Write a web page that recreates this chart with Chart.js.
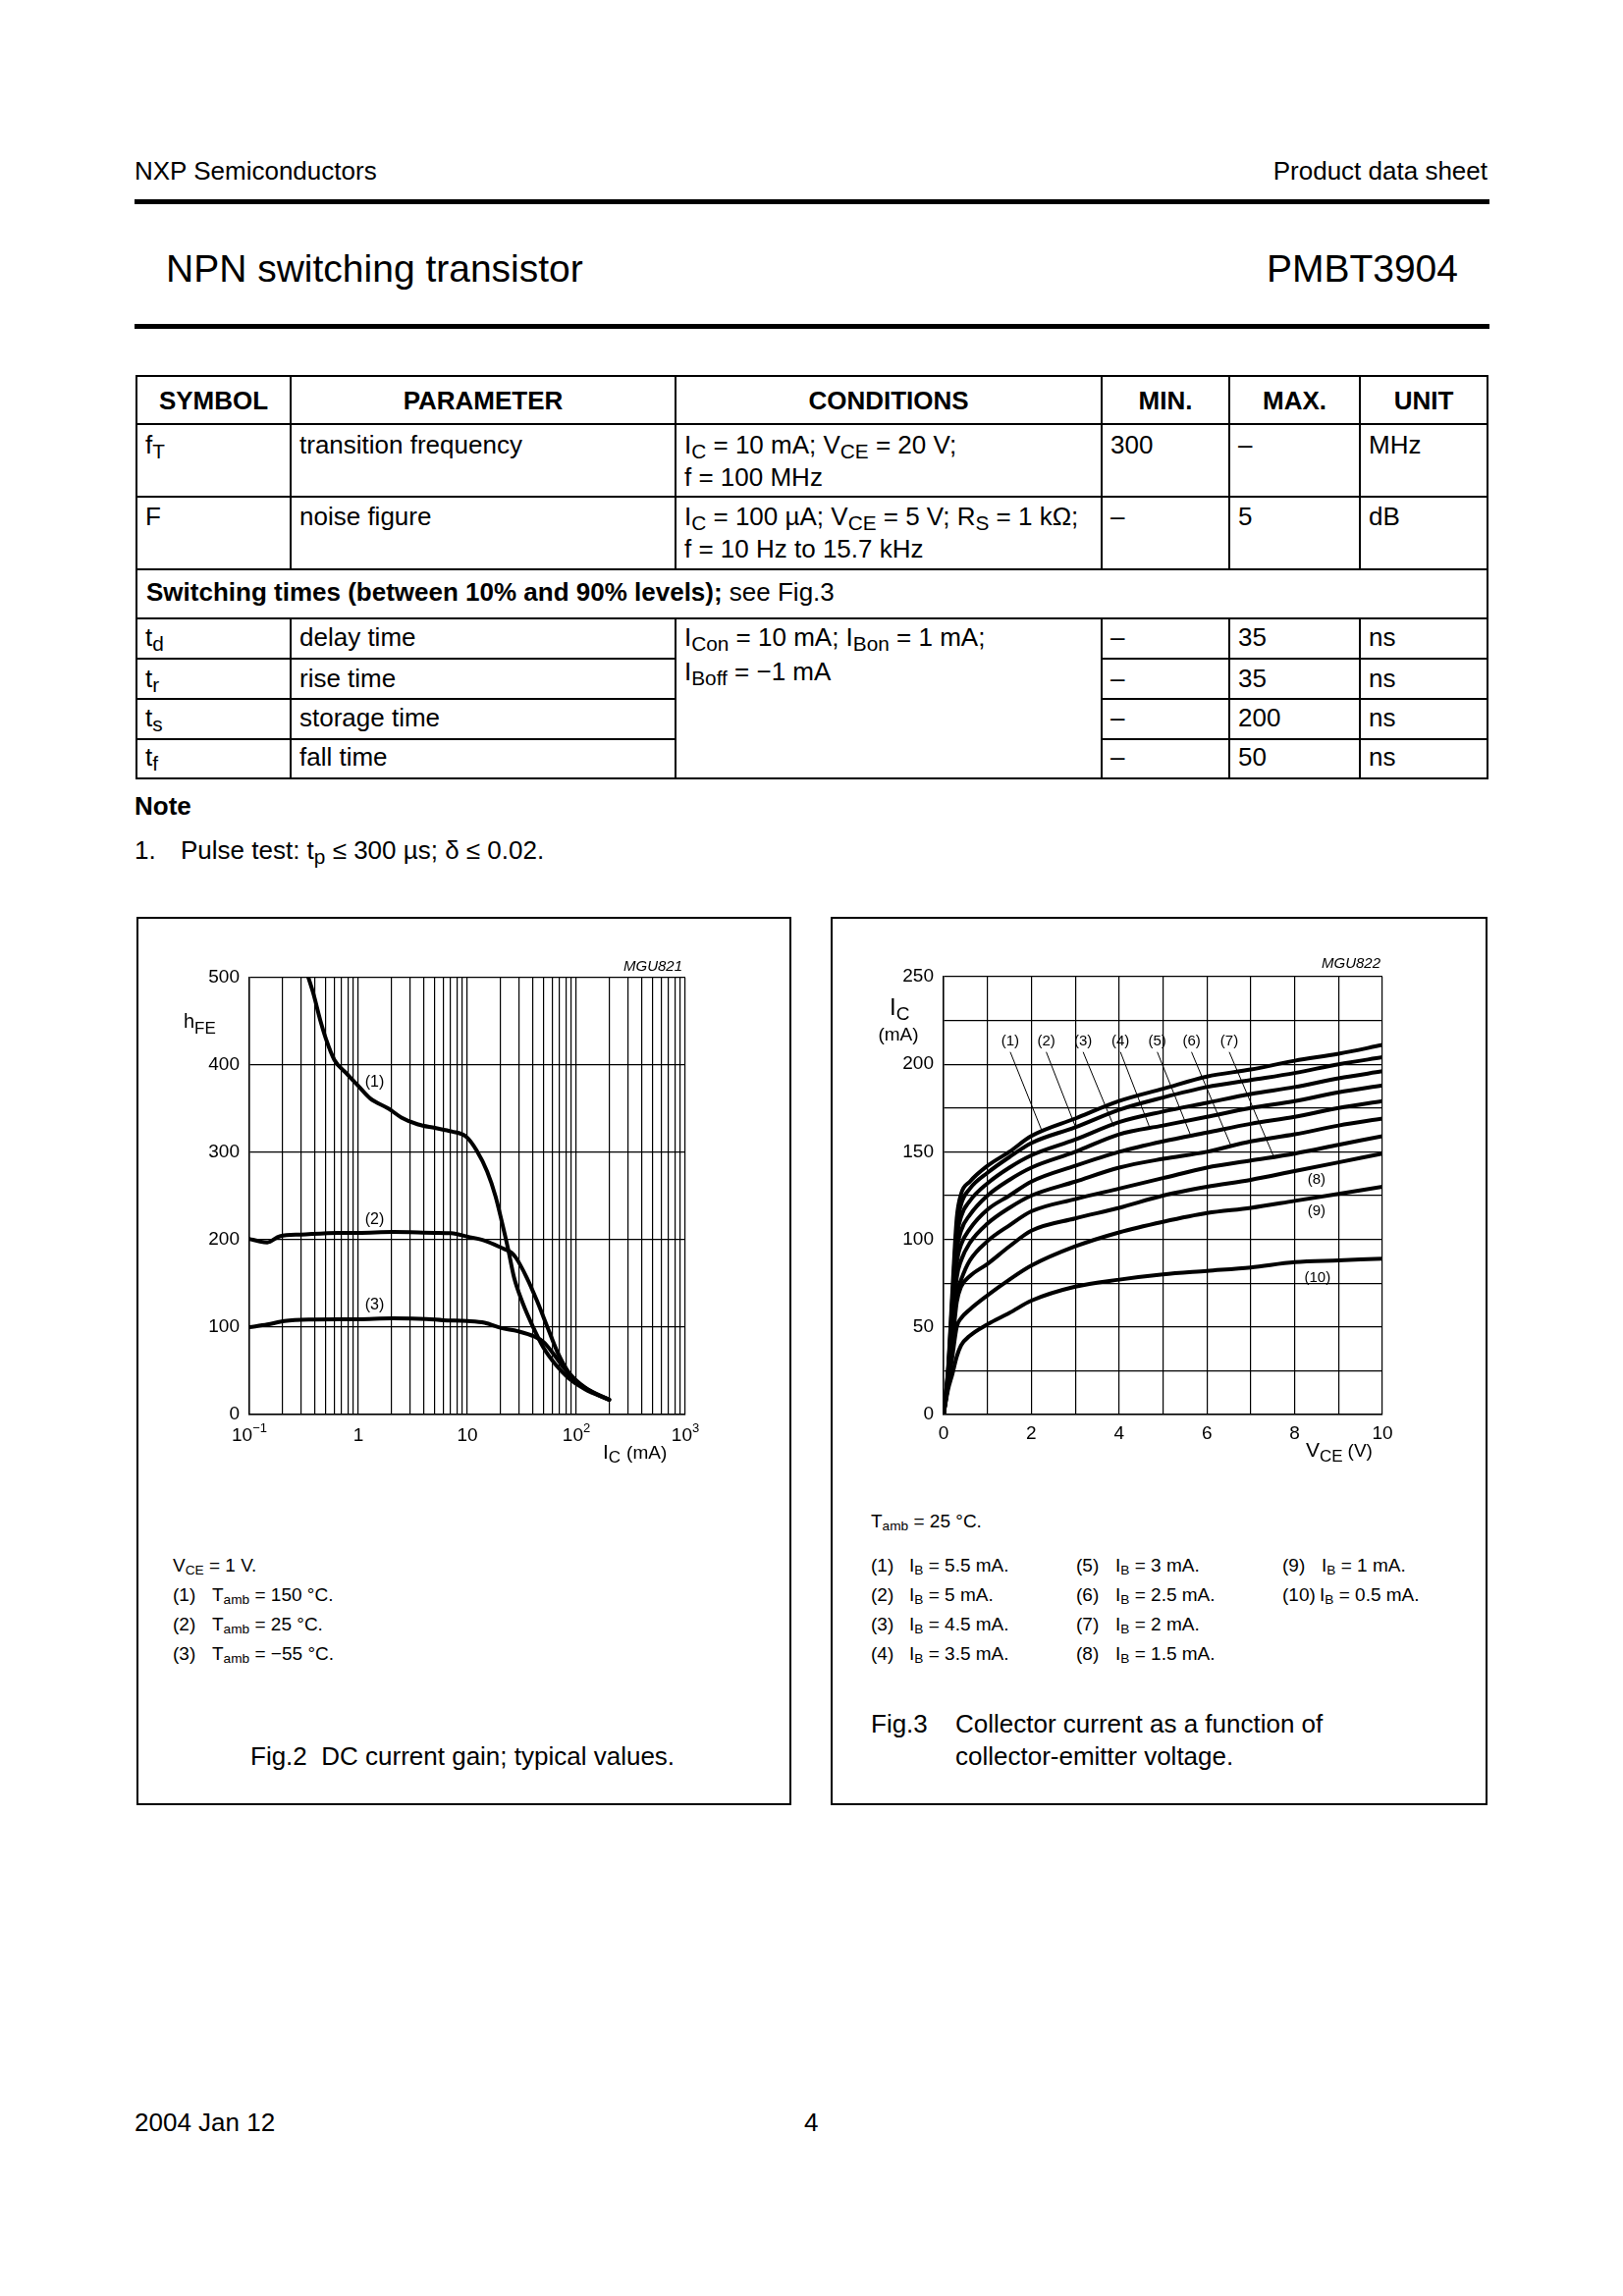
<!DOCTYPE html>
<html>
<head>
<meta charset="utf-8">
<title>PMBT3904 data sheet page 4</title>
<script src="https://cdn.jsdelivr.net/npm/chart.js@4.4.1/dist/chart.umd.min.js"></script>
<style>
html,body{margin:0;padding:0;background:#fff;}
#page{position:relative;width:1653px;height:2339px;overflow:hidden;background:#fff;color:#000;font-family:"Liberation Sans",Arial,Helvetica,sans-serif;}
.t{position:absolute;white-space:nowrap;line-height:1;font-size:26px;}
.b{font-weight:bold;}
.c{text-align:center;}
.s{font-size:0.8em;vertical-align:-0.25em;line-height:0;}
.lg{font-size:19px;}
.ss{font-size:0.72em;vertical-align:-0.22em;line-height:0;}
.ln{position:absolute;background:#000;}
.box{position:absolute;box-sizing:border-box;border:2px solid #000;}
canvas{position:absolute;}
</style>
</head>
<body>
<div id="page">
  <!-- header -->
  <div class="t" style="left:137px;top:161px">NXP Semiconductors</div>
  <div class="t" style="right:138px;top:161px">Product data sheet</div>
  <div class="ln" style="left:137px;top:203px;width:1380px;height:5px"></div>
  <div class="t" style="left:169px;top:254px;font-size:39px">NPN switching transistor</div>
  <div class="t" style="right:168px;top:254px;font-size:39px">PMBT3904</div>
  <div class="ln" style="left:137px;top:330px;width:1380px;height:5px"></div>

  <!-- table header -->
  <div class="t b c" style="left:139px;width:157px;top:395px">SYMBOL</div>
  <div class="t b c" style="left:296px;width:392px;top:395px">PARAMETER</div>
  <div class="t b c" style="left:688px;width:434px;top:395px">CONDITIONS</div>
  <div class="t b c" style="left:1122px;width:130px;top:395px">MIN.</div>
  <div class="t b c" style="left:1252px;width:133px;top:395px">MAX.</div>
  <div class="t b c" style="left:1385px;width:130px;top:395px">UNIT</div>

  <!-- fT row -->
  <div class="t" style="left:148px;top:440px">f<span class="s">T</span></div>
  <div class="t" style="left:305px;top:440px">transition frequency</div>
  <div class="t" style="left:697px;top:440px">I<span class="s">C</span> = 10 mA; V<span class="s">CE</span> = 20 V;</div>
  <div class="t" style="left:697px;top:473px">f = 100 MHz</div>
  <div class="t" style="left:1131px;top:440px">300</div>
  <div class="t" style="left:1261px;top:440px">–</div>
  <div class="t" style="left:1394px;top:440px">MHz</div>

  <!-- F row -->
  <div class="t" style="left:148px;top:513px">F</div>
  <div class="t" style="left:305px;top:513px">noise figure</div>
  <div class="t" style="left:697px;top:513px">I<span class="s">C</span> = 100 µA; V<span class="s">CE</span> = 5 V; R<span class="s">S</span> = 1 kΩ;</div>
  <div class="t" style="left:697px;top:546px">f = 10 Hz to 15.7 kHz</div>
  <div class="t" style="left:1131px;top:513px">–</div>
  <div class="t" style="left:1261px;top:513px">5</div>
  <div class="t" style="left:1394px;top:513px">dB</div>

  <!-- switching row -->
  <div class="t" style="left:149px;top:590px"><b>Switching times (between 10% and 90% levels);</b> see Fig.3</div>

  <!-- switching sub rows -->
  <div class="t" style="left:148px;top:636px">t<span class="s">d</span></div>
  <div class="t" style="left:305px;top:636px">delay time</div>
  <div class="t" style="left:697px;top:636px">I<span class="s">Con</span> = 10 mA; I<span class="s">Bon</span> = 1 mA;</div>
  <div class="t" style="left:697px;top:671px">I<span class="s">Boff</span> = −1 mA</div>
  <div class="t" style="left:1131px;top:636px">–</div>
  <div class="t" style="left:1261px;top:636px">35</div>
  <div class="t" style="left:1394px;top:636px">ns</div>

  <div class="t" style="left:148px;top:678px">t<span class="s">r</span></div>
  <div class="t" style="left:305px;top:678px">rise time</div>
  <div class="t" style="left:1131px;top:678px">–</div>
  <div class="t" style="left:1261px;top:678px">35</div>
  <div class="t" style="left:1394px;top:678px">ns</div>

  <div class="t" style="left:148px;top:718px">t<span class="s">s</span></div>
  <div class="t" style="left:305px;top:718px">storage time</div>
  <div class="t" style="left:1131px;top:718px">–</div>
  <div class="t" style="left:1261px;top:718px">200</div>
  <div class="t" style="left:1394px;top:718px">ns</div>

  <div class="t" style="left:148px;top:758px">t<span class="s">f</span></div>
  <div class="t" style="left:305px;top:758px">fall time</div>
  <div class="t" style="left:1131px;top:758px">–</div>
  <div class="t" style="left:1261px;top:758px">50</div>
  <div class="t" style="left:1394px;top:758px">ns</div>

  <!-- note -->
  <div class="t b" style="left:137px;top:808px">Note</div>
  <div class="t" style="left:137px;top:853px">1.</div>
  <div class="t" style="left:184px;top:853px">Pulse test: t<span class="s">p</span> ≤ 300 µs; δ ≤ 0.02.</div>

  <!-- figure boxes -->
  <div class="box" style="left:139px;top:934px;width:667px;height:905px"></div>
  <div class="box" style="left:846px;top:934px;width:669px;height:905px"></div>

  <canvas id="fig2" width="655" height="600" style="left:144px;top:938px;width:655px;height:600px"></canvas>
  <canvas id="fig3" width="660" height="600" style="left:851px;top:937px;width:660px;height:600px"></canvas>

  <!-- Fig.2 legend -->
  <div class="t lg" style="left:176px;top:1585px">V<span class="ss">CE</span> = 1 V.</div>
  <div class="t lg" style="left:176px;top:1615px">(1)</div>
  <div class="t lg" style="left:216px;top:1615px">T<span class="ss">amb</span> = 150 °C.</div>
  <div class="t lg" style="left:176px;top:1645px">(2)</div>
  <div class="t lg" style="left:216px;top:1645px">T<span class="ss">amb</span> = 25 °C.</div>
  <div class="t lg" style="left:176px;top:1675px">(3)</div>
  <div class="t lg" style="left:216px;top:1675px">T<span class="ss">amb</span> = −55 °C.</div>
  <div class="t" style="left:255px;top:1776px">Fig.2&nbsp; DC current gain; typical values.</div>

  <!-- Fig.3 legend -->
  <div class="t lg" style="left:887px;top:1540px">T<span class="ss">amb</span> = 25 °C.</div>
  <div class="t lg" style="left:887px;top:1585px">(1)</div><div class="t lg" style="left:926px;top:1585px">I<span class="ss">B</span> = 5.5 mA.</div>
  <div class="t lg" style="left:887px;top:1615px">(2)</div><div class="t lg" style="left:926px;top:1615px">I<span class="ss">B</span> = 5 mA.</div>
  <div class="t lg" style="left:887px;top:1645px">(3)</div><div class="t lg" style="left:926px;top:1645px">I<span class="ss">B</span> = 4.5 mA.</div>
  <div class="t lg" style="left:887px;top:1675px">(4)</div><div class="t lg" style="left:926px;top:1675px">I<span class="ss">B</span> = 3.5 mA.</div>
  <div class="t lg" style="left:1096px;top:1585px">(5)</div><div class="t lg" style="left:1136px;top:1585px">I<span class="ss">B</span> = 3 mA.</div>
  <div class="t lg" style="left:1096px;top:1615px">(6)</div><div class="t lg" style="left:1136px;top:1615px">I<span class="ss">B</span> = 2.5 mA.</div>
  <div class="t lg" style="left:1096px;top:1645px">(7)</div><div class="t lg" style="left:1136px;top:1645px">I<span class="ss">B</span> = 2 mA.</div>
  <div class="t lg" style="left:1096px;top:1675px">(8)</div><div class="t lg" style="left:1136px;top:1675px">I<span class="ss">B</span> = 1.5 mA.</div>
  <div class="t lg" style="left:1306px;top:1585px">(9)</div><div class="t lg" style="left:1346px;top:1585px">I<span class="ss">B</span> = 1 mA.</div>
  <div class="t lg" style="left:1306px;top:1615px">(10)</div><div class="t lg" style="left:1344px;top:1615px">I<span class="ss">B</span> = 0.5 mA.</div>
  <div class="t" style="left:887px;top:1743px">Fig.3</div>
  <div class="t" style="left:973px;top:1743px">Collector current as a function of</div>
  <div class="t" style="left:973px;top:1776px">collector-emitter voltage.</div>

  <!-- footer -->
  <div class="t" style="left:137px;top:2149px">2004 Jan 12</div>
  <div class="t" style="left:819px;top:2149px">4</div>
</div>

<script>
// ---------------- Fig.2 data : DC current gain ----------------
const fig2XGrid = [0.1,0.2,0.3,0.4,0.5,0.6,0.7,0.8,0.9,1,2,3,4,5,6,7,8,9,10,20,30,40,50,60,70,80,90,100,200,300,400,500,600,700,800,900,1000];
const fig2XTickValues = [0.1, 1, 10, 100, 1000];
const fig2XTickBase   = ['10', '1', '10', '10', '10'];
const fig2XTickExp    = ['−1', '', '', '2', '3'];
const fig2YTicks = [0, 100, 200, 300, 400, 500];

const ic150  = [0.348,0.386,0.45,0.504,0.602,0.783,1.0,1.28,1.9,2.48,3.53,5.03,7.17,9.75,12.2,15.2,18.1,20.6,23.6,26.8,31.9,39.8,49.7,64.7,84.3,120,200];
const hfe150 = [500,482,450,430,406,390,376,362,350,340,332,328,324,318,302,278,250,222,190,157,129,101,77,57,42,29,17];
const ic25   = [0.1,0.125,0.146,0.19,0.3,0.66,1,2.07,5,7.1,10.1,14.4,20.4,25.5,27.9,35,43.6,54.3,67.9,84.3,120,200];
const hfe25  = [201,198,197,204,206,208,208,209,208,207.5,203.5,199,191,185,179.5,157,130,100,70,49,31,17];
const icm55  = [0.1,0.146,0.21,0.35,1,2.07,4.2,6,10,14.4,20.4,29,41.7,50,62,77,101,143,200];
const hfem55 = [100,103,107,108.6,109,110,109.4,108,107,105,99,95.4,89,83,69,53,37,25,17];

const fig2CurveLabels = ['(1)', '(2)', '(3)'];
const fig2LabelX = [1.41, 1.41, 1.41];
const fig2LabelY = [380, 223, 125];

// ---------------- Fig.3 data : IC vs VCE ----------------
const fig3XGrid = [0,1,2,3,4,5,6,7,8,9,10];
const fig3XLabelled = [0,2,4,6,8,10];
const fig3YGrid = [0,25,50,75,100,125,150,175,200,225,250];
const fig3YLabelled = [0,50,100,150,200,250];

const vce   = [0,0.1,0.2,0.3,0.4,0.6,1,1.5,2,3,4,5,6,7,8,9,10];
const ib5_5 = [0,25,70,112,126,133,142,150,159,169,179,186,193,197,202,206,211];
const ib5_0 = [0,24,66,106,120,129,138,147,155,164,174,181,187,191,195,200,204];
const ib4_5 = [0,23,62,100,113,122,132,141,148,157,167,173,178,183,187,192,196];
const ib3_5 = [0,22,58,93,105,114,125,134,141,150,160,165,170,175,179,184,188];
const ib3_0 = [0,21,54,86,97,106,117,125,133,142,150,156,161,166,170,175,179];
const ib2_5 = [0,20,50,78,88,98,109,118,125,133,141,146,150,156,160,165,169];
const ib2_0 = [0,19,46,69,77,88,99,108,116,123,129,135,141,145,149,154,159];
const ib1_5 = [0,17,40,64,73,79,86,96,105,112,118,125,130,134,139,144,149];
const ib1_0 = [0,16,33,50,55,60,68,77,85,96,104,110,115,118,122,126,130];
const ib0_5 = [0,14,23,33,39.5,45,51.5,58,65,73,77,80,82,84,87,88,89];

const fig3TopLabels = ['(1)','(2)','(3)','(4)','(5)','(6)','(7)'];
const fig3TopLabelX = [1.52,2.34,3.18,4.03,4.87,5.65,6.51];
const fig3TopLabelY = 213;
const fig3LeaderStartY = 207;
const fig3LeaderEndX = [2.24,3.01,3.88,4.71,5.62,6.54,7.51];
const fig3LeaderEndY = [162,164,164.5,163,160,154,148];
const fig3SideLabels = ['(8)','(9)','(10)'];
const fig3SideLabelX = [8.5,8.5,8.52];
const fig3SideLabelY = [134,116,78];

// ---------------- helpers ----------------
const FONT = '"Liberation Sans", Arial, Helvetica, sans-serif';
Chart.defaults.font.family = FONT;
Chart.defaults.color = '#000';
Chart.defaults.font.size = 19;

function runsWidth(ctx, parts) {
  let w = 0;
  for (const p of parts) { ctx.font = (p.st || '') + ' ' + p.sz + 'px ' + FONT; w += ctx.measureText(p.t).width + (p.gap || 0); }
  return w;
}
function drawRuns(ctx, x, y, parts, align) {
  ctx.save();
  ctx.textBaseline = 'alphabetic';
  ctx.textAlign = 'left';
  ctx.fillStyle = '#000';
  let cx = x;
  if (align === 'center') cx = x - runsWidth(ctx, parts) / 2;
  else if (align === 'right') cx = x - runsWidth(ctx, parts);
  for (const p of parts) {
    ctx.font = (p.st || '') + ' ' + p.sz + 'px ' + FONT;
    ctx.fillText(p.t, cx, y + (p.dy || 0));
    cx += ctx.measureText(p.t).width + (p.gap || 0);
  }
  ctx.restore();
}
function pts(xs, ys) { return xs.map((x, i) => ({ x: x, y: ys[i] })); }
function curve(xs, ys) {
  return { data: pts(xs, ys), showLine: true, borderColor: '#000', borderWidth: 4, pointRadius: 0,
           fill: false, cubicInterpolationMode: 'monotone', borderCapStyle: 'round', borderJoinStyle: 'round' };
}
const gridStyle = { color: '#000', lineWidth: 1.2, drawTicks: false };
const borderStyle = { color: '#000', width: 1.5 };

// ---------------- page table lines ----------------
(function () {
  const page = document.getElementById('page');
  const colX = [139, 296, 688, 1122, 1252, 1385, 1515];
  const rowY = [383, 432, 506, 580, 630, 671, 712, 753, 793];
  function line(x, y, w, h) {
    const d = document.createElement('div');
    d.className = 'ln';
    d.style.left = x + 'px'; d.style.top = y + 'px'; d.style.width = w + 'px'; d.style.height = h + 'px';
    page.appendChild(d);
  }
  const L = colX[0], R = colX[6];
  [0, 1, 2, 3, 4, 8].forEach(i => line(L - 1, rowY[i] - 1, R - L + 2, 2));
  [5, 6, 7].forEach(i => { line(L - 1, rowY[i] - 1, colX[2] - L + 2, 2); line(colX[3] - 1, rowY[i] - 1, R - colX[3] + 2, 2); });
  line(L - 1, rowY[0] - 1, 2, rowY[8] - rowY[0] + 2);
  line(R - 1, rowY[0] - 1, 2, rowY[8] - rowY[0] + 2);
  [1, 2, 3, 4, 5].forEach(c => { line(colX[c] - 1, rowY[0], 2, rowY[3] - rowY[0]); line(colX[c] - 1, rowY[4], 2, rowY[8] - rowY[4]); });
})();

// ---------------- Fig.2 chart ----------------
const fig2Text = {
  id: 'fig2Text',
  afterDraw(chart) {
    const ctx = chart.ctx, a = chart.chartArea, xs = chart.scales.x, ys = chart.scales.y;
    fig2XTickValues.forEach((v, i) => {
      const parts = [{ t: fig2XTickBase[i], sz: 19 }];
      if (fig2XTickExp[i]) parts.push({ t: fig2XTickExp[i], sz: 13, dy: -9 });
      drawRuns(ctx, xs.getPixelForValue(v), a.bottom + 27, parts, 'center');
    });
    drawRuns(ctx, a.left - 67, a.top + 51, [{ t: 'h', sz: 20 }, { t: 'FE', sz: 17, dy: 6 }]);
    drawRuns(ctx, a.left + 360, a.bottom + 45, [{ t: 'I', sz: 21 }, { t: 'C', sz: 17, dy: 4, gap: 6 }, { t: '(mA)', sz: 19 }]);
    drawRuns(ctx, a.right - 3, a.top - 7, [{ t: 'MGU821', sz: 15, st: 'italic' }], 'right');
    ctx.save();
    ctx.font = '16px ' + FONT; ctx.textAlign = 'center'; ctx.textBaseline = 'middle'; ctx.fillStyle = '#000';
    fig2CurveLabels.forEach((s, i) => ctx.fillText(s, xs.getPixelForValue(fig2LabelX[i]), ys.getPixelForValue(fig2LabelY[i])));
    ctx.restore();
  }
};

new Chart(document.getElementById('fig2'), {
  type: 'scatter',
  data: { datasets: [curve(ic150, hfe150), curve(ic25, hfe25), curve(icm55, hfem55)] },
  options: {
    responsive: false, animation: false, events: [],
    layout: { padding: { top: 58, right: 101, bottom: 57, left: 0 } },
    plugins: { legend: { display: false }, tooltip: { enabled: false } },
    scales: {
      x: {
        type: 'logarithmic', min: 0.1, max: 1000,
        afterBuildTicks(s) { s.ticks = fig2XGrid.map(v => ({ value: v })); },
        afterFit(s) { s.height = 40; },
        ticks: { display: false },
        grid: gridStyle, border: borderStyle
      },
      y: {
        type: 'linear', min: 0, max: 500,
        afterBuildTicks(s) { s.ticks = fig2YTicks.map(v => ({ value: v })); },
        afterFit(s) { s.width = 110; },
        ticks: { padding: 10, font: { size: 19 }, callback: v => String(v) },
        grid: gridStyle, border: borderStyle
      }
    }
  },
  plugins: [fig2Text]
});

// ---------------- Fig.3 chart ----------------
const fig3Text = {
  id: 'fig3Text',
  afterDraw(chart) {
    const ctx = chart.ctx, a = chart.chartArea, xs = chart.scales.x, ys = chart.scales.y;
    drawRuns(ctx, a.left - 55, a.top + 39, [{ t: 'I', sz: 24 }, { t: 'C', sz: 19, dy: 5 }]);
    drawRuns(ctx, a.left - 46, a.top + 65, [{ t: '(mA)', sz: 19 }], 'center');
    drawRuns(ctx, a.left + 369, a.bottom + 43, [{ t: 'V', sz: 21 }, { t: 'CE', sz: 17, dy: 5, gap: 5 }, { t: '(V)', sz: 19 }]);
    drawRuns(ctx, a.right - 2, a.top - 9, [{ t: 'MGU822', sz: 15, st: 'italic' }], 'right');
    ctx.save();
    ctx.strokeStyle = '#000'; ctx.lineWidth = 1;
    fig3TopLabelX.forEach((lx, i) => {
      ctx.beginPath();
      ctx.moveTo(xs.getPixelForValue(lx), ys.getPixelForValue(fig3LeaderStartY));
      ctx.lineTo(xs.getPixelForValue(fig3LeaderEndX[i]), ys.getPixelForValue(fig3LeaderEndY[i]));
      ctx.stroke();
    });
    ctx.font = '15px ' + FONT; ctx.textAlign = 'center'; ctx.textBaseline = 'middle'; ctx.fillStyle = '#000';
    fig3TopLabels.forEach((s, i) => ctx.fillText(s, xs.getPixelForValue(fig3TopLabelX[i]), ys.getPixelForValue(fig3TopLabelY)));
    fig3SideLabels.forEach((s, i) => ctx.fillText(s, xs.getPixelForValue(fig3SideLabelX[i]), ys.getPixelForValue(fig3SideLabelY[i])));
    ctx.restore();
  }
};

new Chart(document.getElementById('fig3'), {
  type: 'scatter',
  data: { datasets: [ib5_5, ib5_0, ib4_5, ib3_5, ib3_0, ib2_5, ib2_0, ib1_5, ib1_0, ib0_5].map(ys => curve(vce, ys)) },
  options: {
    responsive: false, animation: false, events: [],
    layout: { padding: { top: 58, right: 103, bottom: 56, left: 0 } },
    plugins: { legend: { display: false }, tooltip: { enabled: false } },
    scales: {
      x: {
        type: 'linear', min: 0, max: 10,
        afterBuildTicks(s) { s.ticks = fig3XGrid.map(v => ({ value: v })); },
        afterFit(s) { s.height = 40; },
        ticks: { padding: 8, font: { size: 19 }, maxRotation: 0, autoSkip: false,
                 callback: v => fig3XLabelled.includes(v) ? String(v) : '' },
        grid: gridStyle, border: borderStyle
      },
      y: {
        type: 'linear', min: 0, max: 250,
        afterBuildTicks(s) { s.ticks = fig3YGrid.map(v => ({ value: v })); },
        afterFit(s) { s.width = 110; },
        ticks: { padding: 10, font: { size: 19 }, autoSkip: false,
                 callback: v => fig3YLabelled.includes(v) ? String(v) : '' },
        grid: gridStyle, border: borderStyle
      }
    }
  },
  plugins: [fig3Text]
});
</script>
</body>
</html>
